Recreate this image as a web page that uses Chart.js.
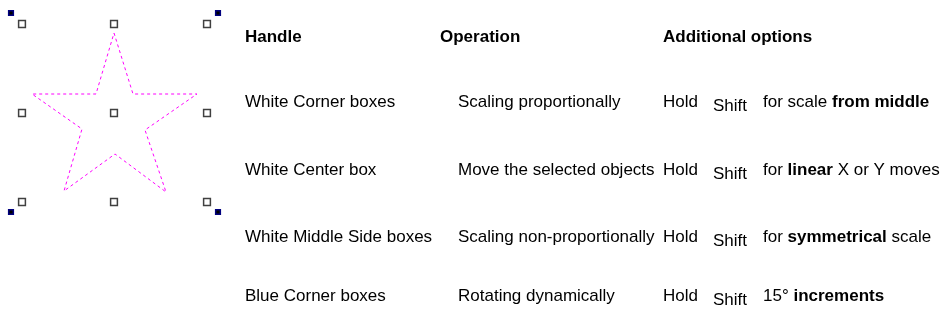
<!DOCTYPE html>
<html>
<head>
<meta charset="utf-8">
<script src="https://cdn.jsdelivr.net/npm/chart.js@4/dist/chart.umd.min.js"></script>
<style>
  html, body { margin: 0; padding: 0; background: #fff; }
  #wrap { width: 948px; height: 320px; position: relative; }
</style>
</head>
<body>
<div id="wrap"><canvas id="chart" width="948" height="320"></canvas></div>
<script>
// Star outline (dashed), in picture units
const starX = [114, 133, 197, 145, 166, 115, 64, 82, 32, 96, 114];
const starY = [33, 94, 94, 130, 192, 154, 191, 129, 94, 94, 33];

// White selection handles
const whiteX = [22, 114, 207, 22, 114, 207, 22, 114, 207];
const whiteY = [24, 24, 24, 113, 113, 113, 202, 202, 202];

// Blue rotation handles
const blueX = [11, 218, 11, 218];
const blueY = [13, 13, 212, 212];

// Table text
const headers = ['Handle', 'Operation', 'Additional options'];
const handles = ['White Corner boxes', 'White Center box', 'White Middle Side boxes', 'Blue Corner boxes'];
const operations = ['Scaling proportionally', 'Move the selected objects', 'Scaling non-proportionally', 'Rotating dynamically'];
const holdWord = 'Hold';
const shiftWord = 'Shift';
const options = [
  [['for scale ', false], ['from middle', true]],
  [['for ', false], ['linear', true], [' X or Y moves', false]],
  [['for ', false], ['symmetrical', true], [' scale', false]],
  [['15° ', false], ['increments', true]]
];

const toPts = (xs, ys) => xs.map((x, i) => ({ x: x, y: ys[i] }));

const FONT = '"Liberation Sans", Arial, sans-serif';
const headerBase = 42;
const rowBase = [107, 175, 242, 301];

const tablePlugin = {
  id: 'tableText',
  afterDraw(chart) {
    const ctx = chart.ctx;
    const sx = chart.scales.x, sy = chart.scales.y;
    ctx.save();
    ctx.fillStyle = '#000';
    ctx.textBaseline = 'alphabetic';
    ctx.textAlign = 'left';

    // headers
    ctx.font = 'bold 17px ' + FONT;
    const headerX = [245, 440, 663];
    headers.forEach((h, i) => ctx.fillText(h, sx.getPixelForValue(headerX[i]), sy.getPixelForValue(headerBase)));

    rowBase.forEach((ry, i) => {
      const y = sy.getPixelForValue(ry);
      ctx.font = '17px ' + FONT;
      ctx.fillText(handles[i], sx.getPixelForValue(245), y);
      ctx.fillText(operations[i], sx.getPixelForValue(458), y);
      ctx.fillText(holdWord, sx.getPixelForValue(663), y);
      ctx.fillText(shiftWord, sx.getPixelForValue(713), y + 4);

      let x = sx.getPixelForValue(763);
      options[i].forEach(([txt, bold]) => {
        ctx.font = (bold ? 'bold ' : '') + '17px ' + FONT;
        ctx.fillText(txt, x, y);
        x += ctx.measureText(txt).width;
      });
    });
    ctx.restore();
  }
};

new Chart(document.getElementById('chart'), {
  type: 'scatter',
  data: {
    datasets: [
      {
        label: 'star',
        data: toPts(starX, starY),
        showLine: true,
        borderColor: '#ff00ff',
        borderWidth: 1,
        borderDash: [3, 3],
        pointRadius: 0,
        fill: false
      },
      {
        label: 'white handles',
        data: toPts(whiteX, whiteY),
        pointStyle: 'rect',
        pointRadius: 4.8,
        backgroundColor: '#ffffff',
        borderColor: '#404040',
        borderWidth: 1.5
      },
      {
        label: 'blue handles',
        data: toPts(blueX, blueY),
        pointStyle: 'rect',
        pointRadius: 3.3,
        backgroundColor: '#000000',
        borderColor: '#00007f',
        borderWidth: 1.5
      }
    ]
  },
  options: {
    responsive: false,
    animation: false,
    devicePixelRatio: 1,
    layout: { padding: 0, autoPadding: false },
    plugins: { legend: { display: false }, tooltip: { enabled: false } },
    scales: {
      x: { type: 'linear', min: 0, max: 948, display: false },
      y: { type: 'linear', min: 0, max: 320, reverse: true, display: false }
    },
    elements: { point: { hoverRadius: 0 } }
  },
  plugins: [tablePlugin]
});
</script>
</body>
</html>
